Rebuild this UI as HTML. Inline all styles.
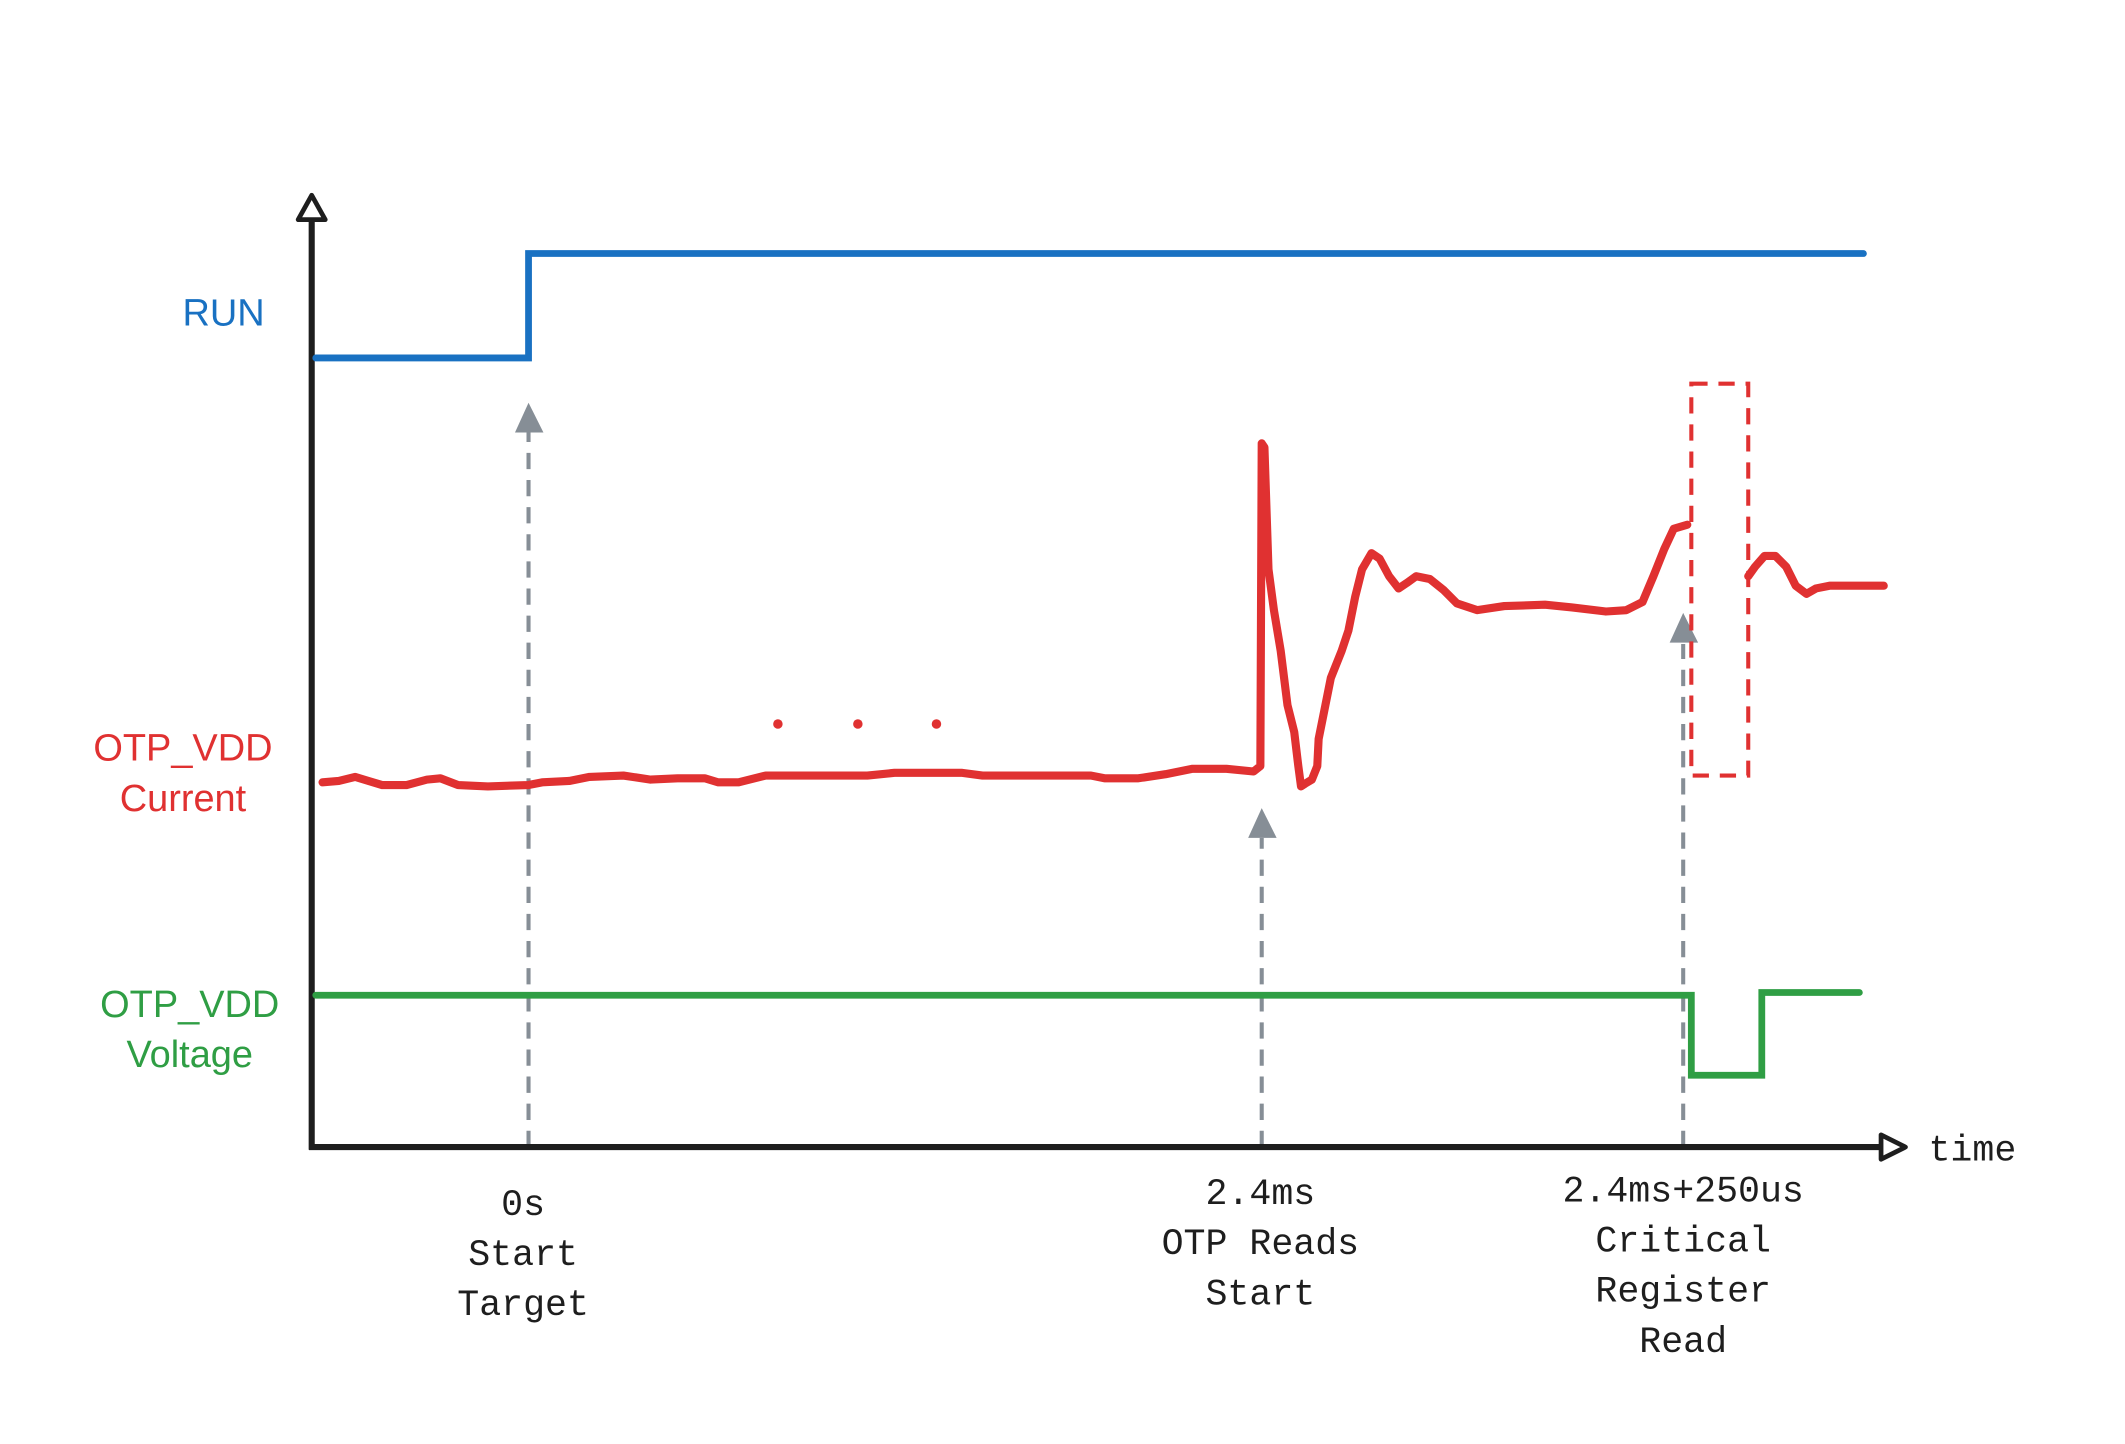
<!DOCTYPE html>
<html><head><meta charset="utf-8"><style>
html,body{margin:0;padding:0;background:#fff;}
svg{display:block;}
.s{font-family:"Liberation Sans",sans-serif;font-size:28px;text-anchor:middle;}
.m{font-family:"Liberation Mono",monospace;font-size:27px;text-anchor:middle;fill:#1e1e1e;}
</style></head><body>
<svg width="2125" height="1444" viewBox="0 0 1568 1065" preserveAspectRatio="none" xmlns="http://www.w3.org/2000/svg">
<rect width="1568" height="1065" fill="#fff"/>
<g stroke="#868e96" stroke-width="3" stroke-dasharray="12 8" fill="none">
<line x1="390" y1="846" x2="390" y2="318"/>
<line x1="931" y1="846" x2="931" y2="618"/>
<line x1="1242" y1="846" x2="1242" y2="475"/>
</g>
<g fill="#868e96">
<polygon points="390,297 380,319 401,319"/>
<polygon points="931,596 921,618 942,618"/>
<polygon points="1242,452 1232,474 1253,474"/>
</g>
<g stroke="#1e1e1e" stroke-width="4.5" fill="none" stroke-linejoin="round">
<line x1="230" y1="162" x2="230" y2="848"/>
<line x1="228" y1="846" x2="1388" y2="846"/>
<polygon points="230,144 220,162 240,162" fill="#fff" stroke-width="3.5"/>
<polygon points="1406,846 1388,837 1388,855" fill="#fff" stroke-width="3.5"/>
</g>
<text x="1423" y="856" font-family="Liberation Mono,monospace" font-size="27" fill="#1e1e1e">time</text>
<polyline points="233,264 390,264 390,187 1375,187" fill="none" stroke="#1971c2" stroke-width="5" stroke-linecap="round"/>
<polyline points="233,734 1248,734 1248,793 1300,793 1300,732 1372,732" fill="none" stroke="#2f9e44" stroke-width="5" stroke-linecap="round"/>
<g fill="none" stroke="#e03131" stroke-width="6" stroke-linecap="round" stroke-linejoin="round">
<polyline points="238,577 250,576 262,573 272,576 282,579 300,579 315,575 325,574 338,579 360,580 390,579 400,577 420,576 435,573 460,572 480,575 500,574 520,574 530,577 545,577 565,572 600,572 640,572 660,570 710,570 725,572 805,572 815,574 840,574 860,571 880,567 905,567 925,569 930,565 931,327 933,330 936,420 940,450 945,480 950,520 955,540 958,565 960,580 963,578 968,575 972,565 973,545 978,520 982,500 990,480 995,465 1000,440 1005,420 1012,408 1018,412 1025,425 1032,434 1038,430 1045,425 1055,427 1065,435 1075,445 1090,450 1110,447 1140,446 1160,448 1185,451 1200,450 1212,444 1220,425 1228,405 1235,390 1245,387"/>
<polyline points="1290,425 1295,418 1302,410 1310,410 1318,418 1325,432 1333,438 1340,434 1350,432 1390,432"/>
</g>
<rect x="1248" y="283" width="42" height="289" fill="none" stroke="#e03131" stroke-width="3" stroke-dasharray="12 8"/>
<g fill="#e03131"><circle cx="574" cy="534" r="3.5"/><circle cx="633" cy="534" r="3.5"/><circle cx="691" cy="534" r="3.5"/></g>
<text class="s" x="165" y="240" fill="#1971c2">RUN</text>
<text class="s" x="135" y="561" fill="#e03131">OTP_VDD</text>
<text class="s" x="135" y="598" fill="#e03131">Current</text>
<text class="s" x="140" y="750" fill="#2f9e44">OTP_VDD</text>
<text class="s" x="140" y="787" fill="#2f9e44">Voltage</text>
<text class="m" x="386" y="896">0s</text>
<text class="m" x="386" y="933">Start</text>
<text class="m" x="386" y="970">Target</text>
<text class="m" x="930" y="888">2.4ms</text>
<text class="m" x="930" y="925">OTP Reads</text>
<text class="m" x="930" y="962">Start</text>
<text class="m" x="1242" y="886">2.4ms+250us</text>
<text class="m" x="1242" y="923">Critical</text>
<text class="m" x="1242" y="960">Register</text>
<text class="m" x="1242" y="997">Read</text>
</svg>
</body></html>
